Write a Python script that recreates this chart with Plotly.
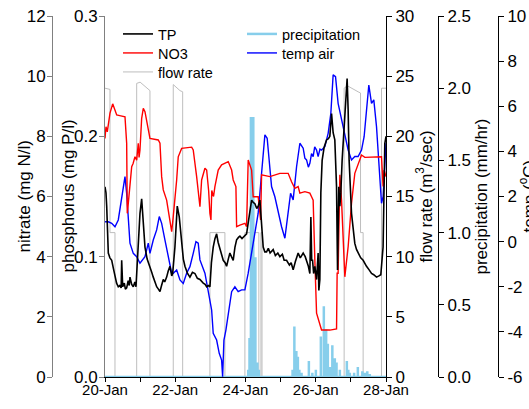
import numpy as np
import pandas as pd
import plotly.graph_objects as go

# ---------------- data (day of January, value) ----------------
tp = [(20.000, 0.158), (20.028, 0.153), (20.048, 0.142), (20.065, 0.130), (20.094, 0.103),
      (20.140, 0.099), (20.191, 0.097), (20.240, 0.090), (20.284, 0.083), (20.330, 0.078),
      (20.378, 0.075), (20.420, 0.076), (20.460, 0.074), (20.475, 0.097), (20.504, 0.075),
      (20.550, 0.078), (20.580, 0.073), (20.617, 0.074), (20.660, 0.080), (20.690, 0.076),
      (20.711, 0.083), (20.760, 0.077), (20.805, 0.075), (20.850, 0.079), (20.882, 0.075),
      (20.919, 0.097), (20.960, 0.120), (20.996, 0.136), (21.044, 0.148), (21.090, 0.130),
      (21.138, 0.108), (21.200, 0.098), (21.280, 0.092), (21.330, 0.087), (21.374, 0.083),
      (21.420, 0.079), (21.471, 0.075), (21.520, 0.073), (21.565, 0.071), (21.610, 0.076),
      (21.659, 0.081), (21.700, 0.079), (21.755, 0.083), (21.800, 0.088), (21.849, 0.092),
      (21.900, 0.084), (21.926, 0.086), (21.991, 0.108), (22.030, 0.130), (22.057, 0.142),
      (22.114, 0.133), (22.182, 0.108), (22.230, 0.098), (22.276, 0.092), (22.350, 0.086),
      (22.418, 0.083), (22.490, 0.087), (22.560, 0.086), (22.630, 0.082), (22.703, 0.081),
      (22.750, 0.079), (22.797, 0.078), (22.850, 0.077), (22.894, 0.075), (22.940, 0.076),
      (22.987, 0.075), (23.030, 0.095), (23.081, 0.108), (23.130, 0.115), (23.178, 0.119),
      (23.220, 0.112), (23.272, 0.106), (23.320, 0.100), (23.366, 0.097), (23.420, 0.095),
      (23.462, 0.092), (23.510, 0.098), (23.556, 0.103), (23.600, 0.100), (23.650, 0.097),
      (23.700, 0.108), (23.747, 0.114), (23.800, 0.116), (23.841, 0.117), (23.900, 0.115),
      (23.983, 0.118), (24.031, 0.119), (24.077, 0.128), (24.130, 0.140), (24.174, 0.147),
      (24.220, 0.145), (24.267, 0.144), (24.320, 0.140), (24.361, 0.142), (24.410, 0.147),
      (24.458, 0.130), (24.504, 0.108), (24.550, 0.104), (24.600, 0.104), (24.650, 0.107),
      (24.700, 0.103), (24.788, 0.106), (24.850, 0.101), (24.920, 0.103), (24.979, 0.100),
      (25.050, 0.102), (25.100, 0.097), (25.169, 0.097), (25.250, 0.093), (25.300, 0.095),
      (25.357, 0.089), (25.420, 0.096), (25.499, 0.103), (25.560, 0.099), (25.642, 0.103),
      (25.700, 0.100), (25.738, 0.097), (25.790, 0.092), (25.832, 0.086), (25.861, 0.133),
      (25.885, 0.097), (25.909, 0.097), (25.940, 0.086), (25.974, 0.092), (26.023, 0.081),
      (26.068, 0.103), (26.088, 0.072), (26.117, 0.081), (26.145, 0.153), (26.182, 0.180),
      (26.239, 0.191), (26.307, 0.197), (26.360, 0.198), (26.401, 0.200), (26.450, 0.219),
      (26.495, 0.203), (26.543, 0.197), (26.592, 0.158), (26.620, 0.089), (26.657, 0.158),
      (26.686, 0.142), (26.714, 0.153), (26.751, 0.180), (26.808, 0.208), (26.848, 0.236),
      (26.893, 0.248), (26.922, 0.222), (26.950, 0.180), (27.018, 0.136), (27.070, 0.120),
      (27.112, 0.111), (27.160, 0.106), (27.206, 0.103), (27.280, 0.099), (27.349, 0.097),
      (27.400, 0.094), (27.445, 0.092), (27.520, 0.089), (27.588, 0.086), (27.650, 0.085),
      (27.730, 0.083), (27.800, 0.084), (27.852, 0.085), (27.917, 0.108), (27.966, 0.194),
      (28.000, 0.200)]

no3 = [(20.000, 7.93), (20.028, 8.32), (20.065, 8.15), (20.100, 8.40), (20.142, 8.77),
       (20.219, 9.08), (20.284, 8.88), (20.333, 8.71), (20.450, 8.68), (20.569, 8.65),
       (20.617, 7.77), (20.634, 5.44), (20.663, 5.77), (20.710, 6.50), (20.760, 6.99),
       (20.800, 7.10), (20.853, 7.32), (20.902, 7.21), (20.947, 7.77), (20.970, 7.30),
       (20.996, 7.55), (21.044, 8.60), (21.090, 8.93), (21.138, 8.82), (21.232, 8.21),
       (21.280, 7.93), (21.516, 7.88), (21.565, 7.77), (21.613, 6.66), (21.659, 6.22),
       (21.755, 5.88), (21.849, 5.22), (21.898, 4.83), (21.943, 5.33), (22.000, 6.00),
       (22.040, 6.55), (22.085, 7.32), (22.182, 7.60), (22.467, 7.64), (22.512, 7.55),
       (22.609, 6.66), (22.703, 5.66), (22.751, 6.55), (22.845, 6.94), (22.894, 6.88),
       (22.950, 6.20), (22.987, 5.44), (23.016, 5.22), (23.040, 6.20), (23.064, 6.11),
       (23.090, 6.00), (23.129, 6.33), (23.223, 6.88), (23.320, 7.05), (23.508, 7.16),
       (23.605, 6.88), (23.650, 6.55), (23.727, 6.33), (23.747, 5.00), (23.841, 5.05),
       (23.983, 5.11), (24.031, 5.00), (24.077, 7.21), (24.174, 6.88), (24.219, 5.99),
       (24.361, 5.99), (24.430, 5.22), (24.458, 6.72), (24.694, 6.66), (24.979, 6.77),
       (25.215, 6.77), (25.311, 6.49), (25.405, 6.27), (25.499, 6.33), (25.548, 6.11),
       (25.690, 6.16), (25.832, 6.11), (25.881, 5.99), (25.926, 5.88), (25.974, 3.89),
       (26.003, 2.34), (26.023, 2.12), (26.165, 1.56), (26.401, 1.56), (26.592, 1.60),
       (26.609, 3.45), (26.637, 3.45), (26.657, 5.00), (26.686, 6.72), (26.734, 5.88),
       (26.780, 4.33), (26.828, 3.33), (26.922, 4.33), (27.018, 5.77), (27.112, 6.77),
       (27.255, 7.27), (27.303, 7.38), (27.397, 7.30), (27.872, 7.32), (27.917, 6.33),
       (27.946, 6.88), (28.000, 6.66)]

flow = [(20.000, 24.0), (20.142, 23.9), (20.142, 12.0), (20.284, 12.0), (20.284, 0.0),
        (20.902, 0.0), (20.902, 24.4), (21.000, 24.5), (21.280, 23.8), (21.280, 0.0),
        (21.943, 0.0), (21.943, 24.3), (22.134, 23.8), (22.211, 23.7), (22.211, 0.0),
        (22.987, 0.0), (22.987, 12.0), (23.414, 12.0), (23.414, 0.0), (23.983, 0.0),
        (23.983, 12.0), (24.380, 12.0), (24.380, 0.0), (24.440, 0.0), (24.440, 12.0),
        (24.470, 12.0), (24.470, 0.0), (26.808, 0.0), (26.808, 24.0), (26.900, 24.2),
        (27.206, 23.7), (27.275, 23.6), (27.275, 12.0), (27.349, 12.0), (27.349, 0.0),
        (27.872, 0.0), (27.872, 24.0), (28.000, 24.0)]

precip = [(24.077, 0.05), (24.114, 0.27), (24.154, 1.80), (24.222, 1.80), (24.282, 0.83),
          (24.339, 0.10), (24.381, 0.05),
          (25.340, 0.05), (25.391, 0.35), (25.448, 0.18), (25.491, 0.14), (25.533, 0.05),
          (25.596, 0.03), (25.804, 0.11), (25.903, 0.03), (26.003, 0.05), (26.145, 0.28),
          (26.230, 0.49), (26.296, 0.33), (26.344, 0.23), (26.415, 0.07), (26.472, 0.22),
          (26.543, 0.13), (26.592, 0.10), (26.686, 0.05), (26.885, 0.11), (26.927, 0.05),
          (26.970, 0.03), (27.092, 0.03), (27.198, 0.07), (27.326, 0.04), (27.397, 0.03),
          (27.468, 0.04), (27.539, 0.02)]

temp = [(20.000, 0.88), (20.094, 0.88), (20.191, 0.81), (20.284, 0.66), (20.378, 0.96),
        (20.475, 1.85), (20.569, 2.88), (20.617, 2.14), (20.663, 0.96), (20.711, -0.07),
        (20.805, -0.52), (20.902, -0.67), (20.996, -0.96), (21.138, -0.67), (21.232, -0.07),
        (21.280, -0.52), (21.374, 0.07), (21.471, 0.52), (21.545, 1.11), (21.613, 0.81),
        (21.707, 0.07), (21.801, -0.67), (21.849, -1.11), (21.898, -1.40), (21.943, -1.40),
        (22.040, -1.26), (22.134, -1.70), (22.228, -1.85), (22.324, -1.40), (22.418, -1.11),
        (22.512, -0.52), (22.589, 0.00), (22.654, -0.07), (22.703, -0.81), (22.845, -1.40),
        (22.939, -2.29), (23.036, -3.03), (23.081, -4.06), (23.178, -4.36), (23.252, -4.95),
        (23.320, -5.25), (23.349, -5.99), (23.386, -4.36), (23.442, -3.92), (23.508, -3.18),
        (23.605, -2.22), (23.698, -2.00), (23.792, -2.22), (23.889, -2.14), (23.983, -2.14),
        (24.077, -1.40), (24.219, -0.07), (24.361, 1.26), (24.458, 3.03), (24.552, 4.73),
        (24.617, 4.58), (24.674, 3.62), (24.742, 2.44), (24.836, 1.99), (24.930, 1.26),
        (25.027, 0.66), (25.121, 0.15), (25.215, 1.40), (25.283, 2.14), (25.357, 1.85),
        (25.454, 3.32), (25.548, 4.36), (25.642, 4.14), (25.690, 3.70), (25.738, 3.62),
        (25.790, 3.30), (25.832, 3.47), (25.880, 3.90), (25.926, 3.77), (25.970, 4.20),
        (26.023, 4.06), (26.068, 3.77), (26.120, 4.10), (26.165, 4.06), (26.259, 4.21),
        (26.353, 4.80), (26.430, 5.69), (26.495, 7.39), (26.563, 7.31), (26.637, 6.13),
        (26.734, 5.39), (26.828, 4.65), (26.922, 4.06), (27.018, 3.62), (27.112, 3.77),
        (27.206, 3.77), (27.303, 4.06), (27.377, 4.65), (27.445, 5.98), (27.511, 6.94),
        (27.588, 6.13), (27.653, 6.28), (27.730, 5.09), (27.824, 3.03), (27.872, 1.70),
        (27.917, 1.99), (27.946, 2.73), (28.000, 4.36)]

# ---------------- tick values / labels ----------------
date_tick_days = [20, 22, 24, 26, 28]
date_tick_text = ["20-Jan", "22-Jan", "24-Jan", "26-Jan", "28-Jan"]
date_minor_days = [20, 21, 22, 23, 24, 25, 26, 27, 28]
nitrate_ticks = [0, 2, 4, 6, 8, 10, 12]
phos_ticks = [0.0, 0.1, 0.2, 0.3]
phos_text = ["0.0", "0.1", "0.2", "0.3"]
flow_ticks = [0, 5, 10, 15, 20, 25, 30]
precip_ticks = [0.0, 0.5, 1.0, 1.5, 2.0, 2.5]
precip_text = ["0.0", "0.5", "1.0", "1.5", "2.0", "2.5"]
temp_ticks = [-6, -4, -2, 0, 2, 4, 6, 8, 10]
temp_text = ["-6", "-4", "-2", "0", "2", "4", "6", "8", "10"]

# ---------------- helpers ----------------
BASE = pd.Timestamp("2016-01-20")


def to_time(days):
    return BASE + pd.to_timedelta(np.asarray(days, dtype=float) - 20.0, unit="D")


def split(points):
    d, v = zip(*points)
    return to_time(d), list(v)


W, H = 529, 409
PLOT_L, PLOT_R, PLOT_T, PLOT_B = 105, 386, 16, 377
FONT = "Liberation Sans, Arial, Helvetica, sans-serif"
TICK_FS = 17
XTICK_FS = 15
TITLE_FS = 17
LEG_FS = 14.5


def fx(p):
    return p / W


def fy(p):
    return (PLOT_B - p) / (PLOT_B - PLOT_T)


# precipitation drawn as vertical spikes (type "h") on a baseline
p_days, p_vals = [20.0], [0.0]
for d, v in precip:
    p_days.append(d)
    p_vals.append(v)
p_days.append(28.0)
p_vals.append(0.0)
spike_x, spike_y = [], []
for d, v in zip(p_days, p_vals):
    spike_x += [d, d, d]
    spike_y += [0.0, v, 0.0]

fig = go.Figure()

fx_t, fv = split(flow)
fig.add_trace(go.Scatter(x=fx_t, y=fv, mode="lines", name="flow rate", yaxis="y",
                         line=dict(color="#BEBEBE", width=1), legend="legend3"))
fig.add_trace(go.Scatter(x=to_time(spike_x), y=spike_y, mode="lines", name="precipitation",
                         yaxis="y2", line=dict(color="#87CEEB", width=2.5), legend="legend4"))
tx, tv = split(temp)
fig.add_trace(go.Scatter(x=tx, y=tv, mode="lines", name="temp air", yaxis="y3",
                         line=dict(color="#0000FF", width=1.4), legend="legend5"))
nx, nv = split(no3)
fig.add_trace(go.Scatter(x=nx, y=nv, mode="lines", name="NO3", yaxis="y4",
                         line=dict(color="#FF0000", width=1.4), legend="legend2"))
px_, pv = split(tp)
fig.add_trace(go.Scatter(x=px_, y=pv, mode="lines", name="TP", yaxis="y5",
                         line=dict(color="#000000", width=1.6), legend="legend"))

common = dict(showline=True, linewidth=1, ticks="outside", ticklen=5, tickwidth=1,
              showgrid=False, zeroline=False, fixedrange=True, automargin=False,
              tickfont=dict(size=TICK_FS, color="black", family=FONT))


def leg(xp, yp):
    return dict(x=fx(xp), y=fy(yp), xanchor="left", yanchor="middle",
                bgcolor="rgba(0,0,0,0)", borderwidth=0,
                font=dict(size=LEG_FS, color="black", family=FONT))


fig.update_layout(
    width=W, height=H, autosize=False,
    margin=dict(l=0, r=0, t=PLOT_T, b=H - PLOT_B, autoexpand=False),
    paper_bgcolor="white", plot_bgcolor="white",
    font=dict(family=FONT, color="black"),
    hovermode=False,
    showlegend=True,
    xaxis=dict(
        type="date", domain=[fx(PLOT_L), fx(PLOT_R)], anchor="y",
        range=[to_time([20.0])[0], to_time([28.0])[0]],
        tickvals=to_time(date_tick_days), ticktext=date_tick_text,
        minor=dict(tickvals=to_time(date_minor_days), ticks="outside", ticklen=4,
                   tickcolor="black", showgrid=False),
        showline=True, linecolor="black", linewidth=1, ticks="outside", ticklen=4,
        tickcolor="black", showgrid=False, zeroline=False, fixedrange=True,
        layer="below traces", automargin=False, ticklabelstandoff=-5,
        tickfont=dict(size=XTICK_FS, color="black", family=FONT)),
    yaxis=dict(common, range=[0, 30], tickvals=flow_ticks, side="right", anchor="x",
               linecolor="black", tickcolor="black"),
    yaxis2=dict(common, range=[0, 2.5], tickvals=precip_ticks, ticktext=precip_text,
                side="right", overlaying="y", anchor="free", position=fx(438),
                linecolor="black", tickcolor="black"),
    yaxis3=dict(common, range=[-6, 10], tickvals=temp_ticks, ticktext=temp_text,
                side="right", overlaying="y", anchor="free", position=fx(498),
                linecolor="black", tickcolor="black"),
    yaxis4=dict(common, range=[0, 12], tickvals=nitrate_ticks, side="left",
                overlaying="y", anchor="free", position=fx(52), ticklabelstandoff=-2,
                linecolor="#808080", tickcolor="#808080"),
    yaxis5=dict(common, range=[0, 0.3], tickvals=phos_ticks, ticktext=phos_text,
                side="left", overlaying="y", anchor="x", ticklabelstandoff=-2,
                linecolor="#808080", tickcolor="#808080"),
    legend=leg(118, 34),
    legend2=leg(118, 53),
    legend3=leg(118, 72),
    legend4=leg(242, 34),
    legend5=leg(242, 53),
)

titles = [
    ("nitrate (mg N/l)", 24),
    ("phosphorus (mg P/l)", 68),
    ("flow rate (m<sup>3</sup>/sec)", 424),
    ("precipitation (mm/hr)", 481),
    ("temp (<sup>o</sup>C)", 527),
]
for text, xpos in titles:
    fig.add_annotation(text=text, x=fx(xpos), y=0.5, xref="paper", yref="paper",
                       xanchor="center", yanchor="middle", textangle=-90,
                       showarrow=False, font=dict(size=TITLE_FS, color="black", family=FONT))

# the page's default 8px body margin would offset the figure in the window
fig.write_html("out.html", config={"displayModeBar": False},
               post_script="document.body.style.margin='0';document.body.style.overflow='hidden';")
